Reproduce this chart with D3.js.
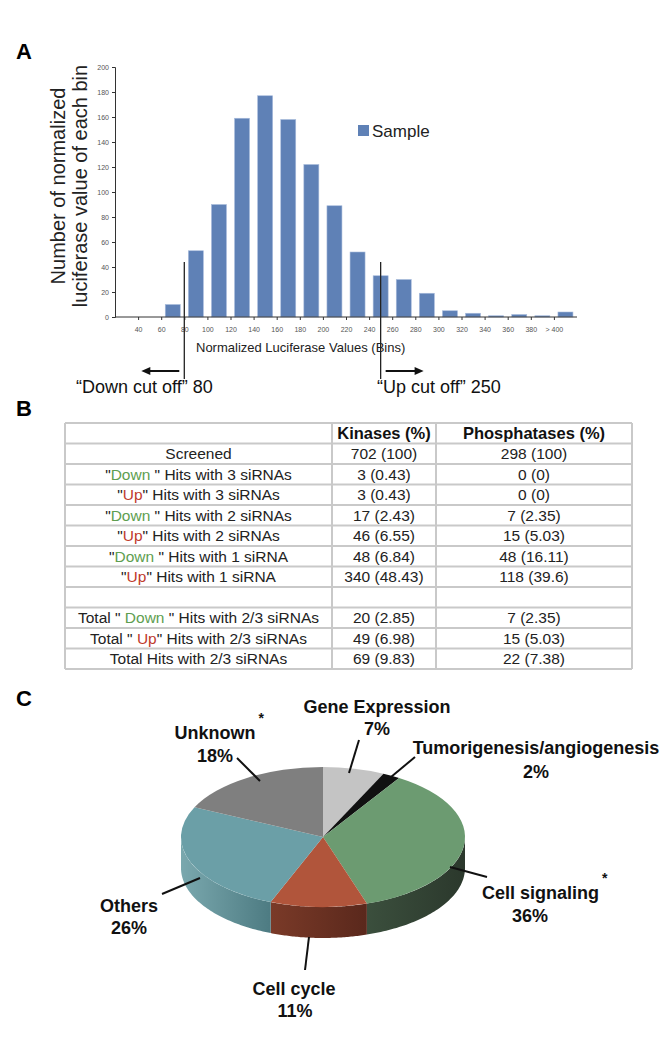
<!DOCTYPE html>
<html><head><meta charset="utf-8">
<script src="https://cdn.jsdelivr.net/npm/d3@7"></script>
<style>
body{margin:0;background:#fff}
svg{display:block}
text{font-family:"Liberation Sans",Arial,Helvetica,sans-serif}
</style>
</head><body>
<svg id="c" width="666" height="1055"></svg>
<script>
// ---------- DATA ----------
const binStarts = [20,40,60,80,100,120,140,160,180,200,220,240,260,280,300,320,340,360,380,400];
const binCounts = [0,0,10,53,90,159,177,158,122,89,52,33,30,19,5,3,1,2,1,4];
const xTickValues = [40,60,80,100,120,140,160,180,200,220,240,260,280,300,320,340,360,380,400];
const xTickLabels = ["40","60","80","100","120","140","160","180","200","220","240","260","280","300","320","340","360","380","> 400"];
const yTickValues = [0,20,40,60,80,100,120,140,160,180,200];
const cutoffValues = [80,250];
const cutoffLabels = ["\u201CDown cut off\u201D 80","\u201CUp cut off\u201D 250"];
const seriesName = "Sample";
const yTitleLines = ["Number of normalized","luciferase value of each bin"];
const xTitle = "Normalized Luciferase Values (Bins)";

const tableHeader = ["", "Kinases (%)", "Phosphatases (%)"];
const rowLabels = [
  "Screened",
  "\"{Down} \" Hits with 3 siRNAs",
  "\"{Up}\" Hits with 3 siRNAs",
  "\"{Down} \" Hits with 2 siRNAs",
  "\"{Up}\" Hits with 2 siRNAs",
  "\"{Down} \" Hits with 1 siRNA",
  "\"{Up}\" Hits with 1 siRNA",
  "",
  "Total \" {Down} \" Hits with 2/3 siRNAs",
  "Total \" {Up}\" Hits with 2/3 siRNAs",
  "Total Hits with 2/3 siRNAs"
];
const kinasesCol = ["702 (100)","3 (0.43)","3 (0.43)","17 (2.43)","46 (6.55)","48 (6.84)","340 (48.43)","","20 (2.85)","49 (6.98)","69 (9.83)"];
const phosphatasesCol = ["298 (100)","0 (0)","0 (0)","7 (2.35)","15 (5.03)","48 (16.11)","118 (39.6)","","7 (2.35)","15 (5.03)","22 (7.38)"];

const pieCategories = ["Gene Expression","Tumorigenesis/angiogenesis","Cell signaling","Cell cycle","Others","Unknown"];
const piePercents = [7,2,36,11,26,18];
const pieStarred = [false,false,true,false,false,true];

// ---------- STYLE / LAYOUT ----------
const barColor = "#5f81b6";
const downColor = "#5e9e50";
const upColor = "#c0392b";
const topColors = ["#c4c4c4","#111111","#6c9b71","#b1553b","#6b9fa7","#7f7f7f"];
const sideColors = [["#9a9a9a","#8a8a8a"],["#111","#111"],["#3b4f3d","#2b382c"],["#7a3a28","#5a281c"],["#7aa8ae","#4d7b82"],["#666","#555"]];
const pieLabelLayout = [
  {anchor:"middle", x:377, y1:713, x2:377, y2:735, line:[[359,740],[349,773]]},
  {anchor:"middle", x:536, y1:754, x2:536, y2:778, line:[[415,757],[391,777]]},
  {anchor:"start",  x:482, y1:899, x2:530, y2:922, line:[[450,867],[487,877]]},
  {anchor:"middle", x:294, y1:995, x2:295, y2:1017, line:[[309,937],[305,970]]},
  {anchor:"middle", x:129, y1:912, x2:129, y2:934, line:[[200,878],[162,894]]},
  {anchor:"middle", x:215, y1:739, x2:215, y2:762, line:[[237,758],[260,781]]}
];

const svg = d3.select("#c");

// panel letters
[["A",59],["B",416],["C",706]].forEach(([t,yy])=>{
  svg.append("text").attr("x",16).attr("y",yy).attr("font-size",22).attr("font-weight","bold").attr("fill","#000").text(t);
});

// ---------- HISTOGRAM ----------
const x = d3.scaleLinear().domain([20,420]).range([115,577]);
const y = d3.scaleLinear().domain([0,200]).range([317,67]);
const barW = 15;

const g = svg.append("g");
g.selectAll("rect.bar").data(binStarts.map((s,i)=>({s,c:binCounts[i]}))).join("rect")
  .attr("class","bar")
  .attr("x",d=>x(d.s+10)-barW/2)
  .attr("width",barW)
  .attr("y",d=>y(d.c))
  .attr("height",d=>y(0)-y(d.c))
  .attr("fill",barColor)
  .attr("stroke","#a9bcdc").attr("stroke-width",0.6);

const yAxis = g.append("g").attr("transform",`translate(${x(20)},0)`)
  .call(d3.axisLeft(y).tickValues(yTickValues).tickSize(3).tickPadding(3));
yAxis.selectAll("text").attr("font-size",7).attr("fill","#555").style("font-family","Liberation Sans, Arial");
yAxis.selectAll("line,path").attr("stroke","#333");

const xAxis = g.append("g").attr("transform",`translate(0,${y(0)})`)
  .call(d3.axisBottom(x).tickValues(xTickValues).tickFormat((d,i)=>xTickLabels[i]).tickSize(3).tickPadding(7));
xAxis.selectAll("text").attr("font-size",7).attr("fill","#555").style("font-family","Liberation Sans, Arial");
xAxis.selectAll("line,path").attr("stroke","#333");
xAxis.select("path.domain").attr("d",`M${x(20)},0H${x(420)}`);

// titles
yTitleLines.forEach((t,i)=>{
  svg.append("text").attr("transform",`translate(${65+i*22},186) rotate(-90)`)
    .attr("text-anchor","middle").attr("font-size",20).attr("fill","#222").text(t);
});
svg.append("text").attr("x",196).attr("y",352).attr("text-anchor","start")
  .attr("font-size",13).attr("fill","#222").text(xTitle);

// legend
svg.append("rect").attr("x",358).attr("y",125).attr("width",11).attr("height",11).attr("fill",barColor);
svg.append("text").attr("x",372).attr("y",137).attr("font-size",17).attr("fill","#222").text(seriesName);

// cutoffs
cutoffValues.forEach((v,i)=>{
  const cx = x(v);
  svg.append("line").attr("x1",cx).attr("x2",cx).attr("y1",262).attr("y2",379)
    .attr("stroke","#222").attr("stroke-width",1.3);
  const dir = i===0 ? -1 : 1;
  const x0 = cx + dir*5, x1 = cx + dir*43, ay = 371;
  svg.append("line").attr("x1",x0).attr("x2",x1-dir*6).attr("y1",ay).attr("y2",ay).attr("stroke","#111").attr("stroke-width",2);
  svg.append("path").attr("d",`M${x1},${ay}L${x1-dir*9},${ay-4}L${x1-dir*9},${ay+4}Z`).attr("fill","#111");
  svg.append("text").attr("x", i===0 ? 76 : 377).attr("y",393)
    .attr("text-anchor","start")
    .attr("font-size",18).attr("fill","#111").text(cutoffLabels[i]);
});

// ---------- TABLE ----------
const colX = [65,332,436,632];
const tTop = 423, rowH = 20.5;
const nRows = rowLabels.length + 1;
const tg = svg.append("g");
const borderC = "#c9c9c9";
for(let r=0;r<=nRows;r++){
  tg.append("line").attr("x1",colX[0]).attr("x2",colX[3]).attr("y1",tTop+r*rowH).attr("y2",tTop+r*rowH)
    .attr("stroke",borderC).attr("stroke-width",2);
}
colX.forEach(cx=>{
  tg.append("line").attr("x1",cx).attr("x2",cx).attr("y1",tTop).attr("y2",tTop+nRows*rowH)
    .attr("stroke",borderC).attr("stroke-width",2);
});
const colCenter = i => (colX[i]+colX[i+1])/2;
tableHeader.forEach((h,i)=>{
  if(!h) return;
  tg.append("text").attr("x",colCenter(i)).attr("y",tTop+rowH*0.5+5.5).attr("text-anchor","middle")
    .attr("font-size",16.5).attr("font-weight","bold").attr("fill","#111").text(h);
});
rowLabels.forEach((lab,r)=>{
  const yy = tTop + rowH*(r+1.5) + 5.3;
  if(lab){
    const t = tg.append("text").attr("x",colCenter(0)).attr("y",yy).attr("text-anchor","middle")
      .attr("font-size",15.5).attr("fill","#222").attr("xml:space","preserve").style("white-space","pre");
    lab.split(/(\{[^}]+\})/).filter(s=>s.length).forEach(seg=>{
      const m = seg.match(/^\{(.+)\}$/);
      if(m){ t.append("tspan").attr("fill", m[1]==="Down"?downColor:upColor).text(m[1]); }
      else { t.append("tspan").text(seg); }
    });
  }
  [kinasesCol[r],phosphatasesCol[r]].forEach((v,ci)=>{
    if(!v) return;
    tg.append("text").attr("x",colCenter(ci+1)).attr("y",yy).attr("text-anchor","middle")
      .attr("font-size",15.5).attr("fill","#222").text(v);
  });
});

// ---------- 3D PIE ----------
const pcx = 323, pcy = 837, rx = 142, ry = 70, depth = 31;
const pie = d3.pie().sort(null).value(d=>d)(piePercents);
const defs = svg.append("defs");
sideColors.forEach((c,i)=>{
  const lg = defs.append("linearGradient").attr("id","side"+i).attr("x1","0").attr("x2","1").attr("y1","0").attr("y2","0");
  lg.append("stop").attr("offset","0").attr("stop-color",c[0]);
  lg.append("stop").attr("offset","1").attr("stop-color",c[1]);
});
const pt = (a,dy=0)=>[pcx + rx*Math.sin(a), pcy - ry*Math.cos(a) + dy];
const pg = svg.append("g");
pie.forEach((s,i)=>{
  const s0 = Math.max(s.startAngle, Math.PI/2), s1 = Math.min(s.endAngle, 3*Math.PI/2);
  if(s1 <= s0) return;
  const n = 60, top=[], bot=[];
  for(let k=0;k<=n;k++){ const a = s0 + (s1-s0)*k/n; top.push(pt(a)); bot.push(pt(a,depth)); }
  const d = "M" + top.map(p=>p.join(",")).join("L") + "L" + bot.reverse().map(p=>p.join(",")).join("L") + "Z";
  pg.append("path").attr("d",d).attr("fill",`url(#side${i})`);
});
const arc = d3.arc().innerRadius(0).outerRadius(rx);
pg.append("g").attr("transform",`translate(${pcx},${pcy}) scale(1,${ry/rx})`)
  .selectAll("path").data(pie).join("path")
  .attr("d",arc).attr("fill",(d,i)=>topColors[i]);

// labels
pieCategories.forEach((name,i)=>{
  const L = pieLabelLayout[i];
  svg.append("line").attr("x1",L.line[0][0]).attr("y1",L.line[0][1]).attr("x2",L.line[1][0]).attr("y2",L.line[1][1])
    .attr("stroke","#111").attr("stroke-width",2);
  const t1 = svg.append("text").attr("x",L.x).attr("y",L.y1).attr("text-anchor",L.anchor)
    .attr("font-size",18).attr("font-weight","bold").attr("fill","#111").text(name);
  if(pieStarred[i]){
    const bb = t1.node().getBBox();
    svg.append("text").attr("x",bb.x+bb.width+3).attr("y",L.y1-16).attr("font-size",14).attr("font-weight","bold").attr("fill","#111").text("*");
  }
  svg.append("text").attr("x",L.x2).attr("y",L.y2).attr("text-anchor","middle")
    .attr("font-size",18).attr("font-weight","bold").attr("fill","#111").text(piePercents[i]+"%");
});
</script>
</body></html>
